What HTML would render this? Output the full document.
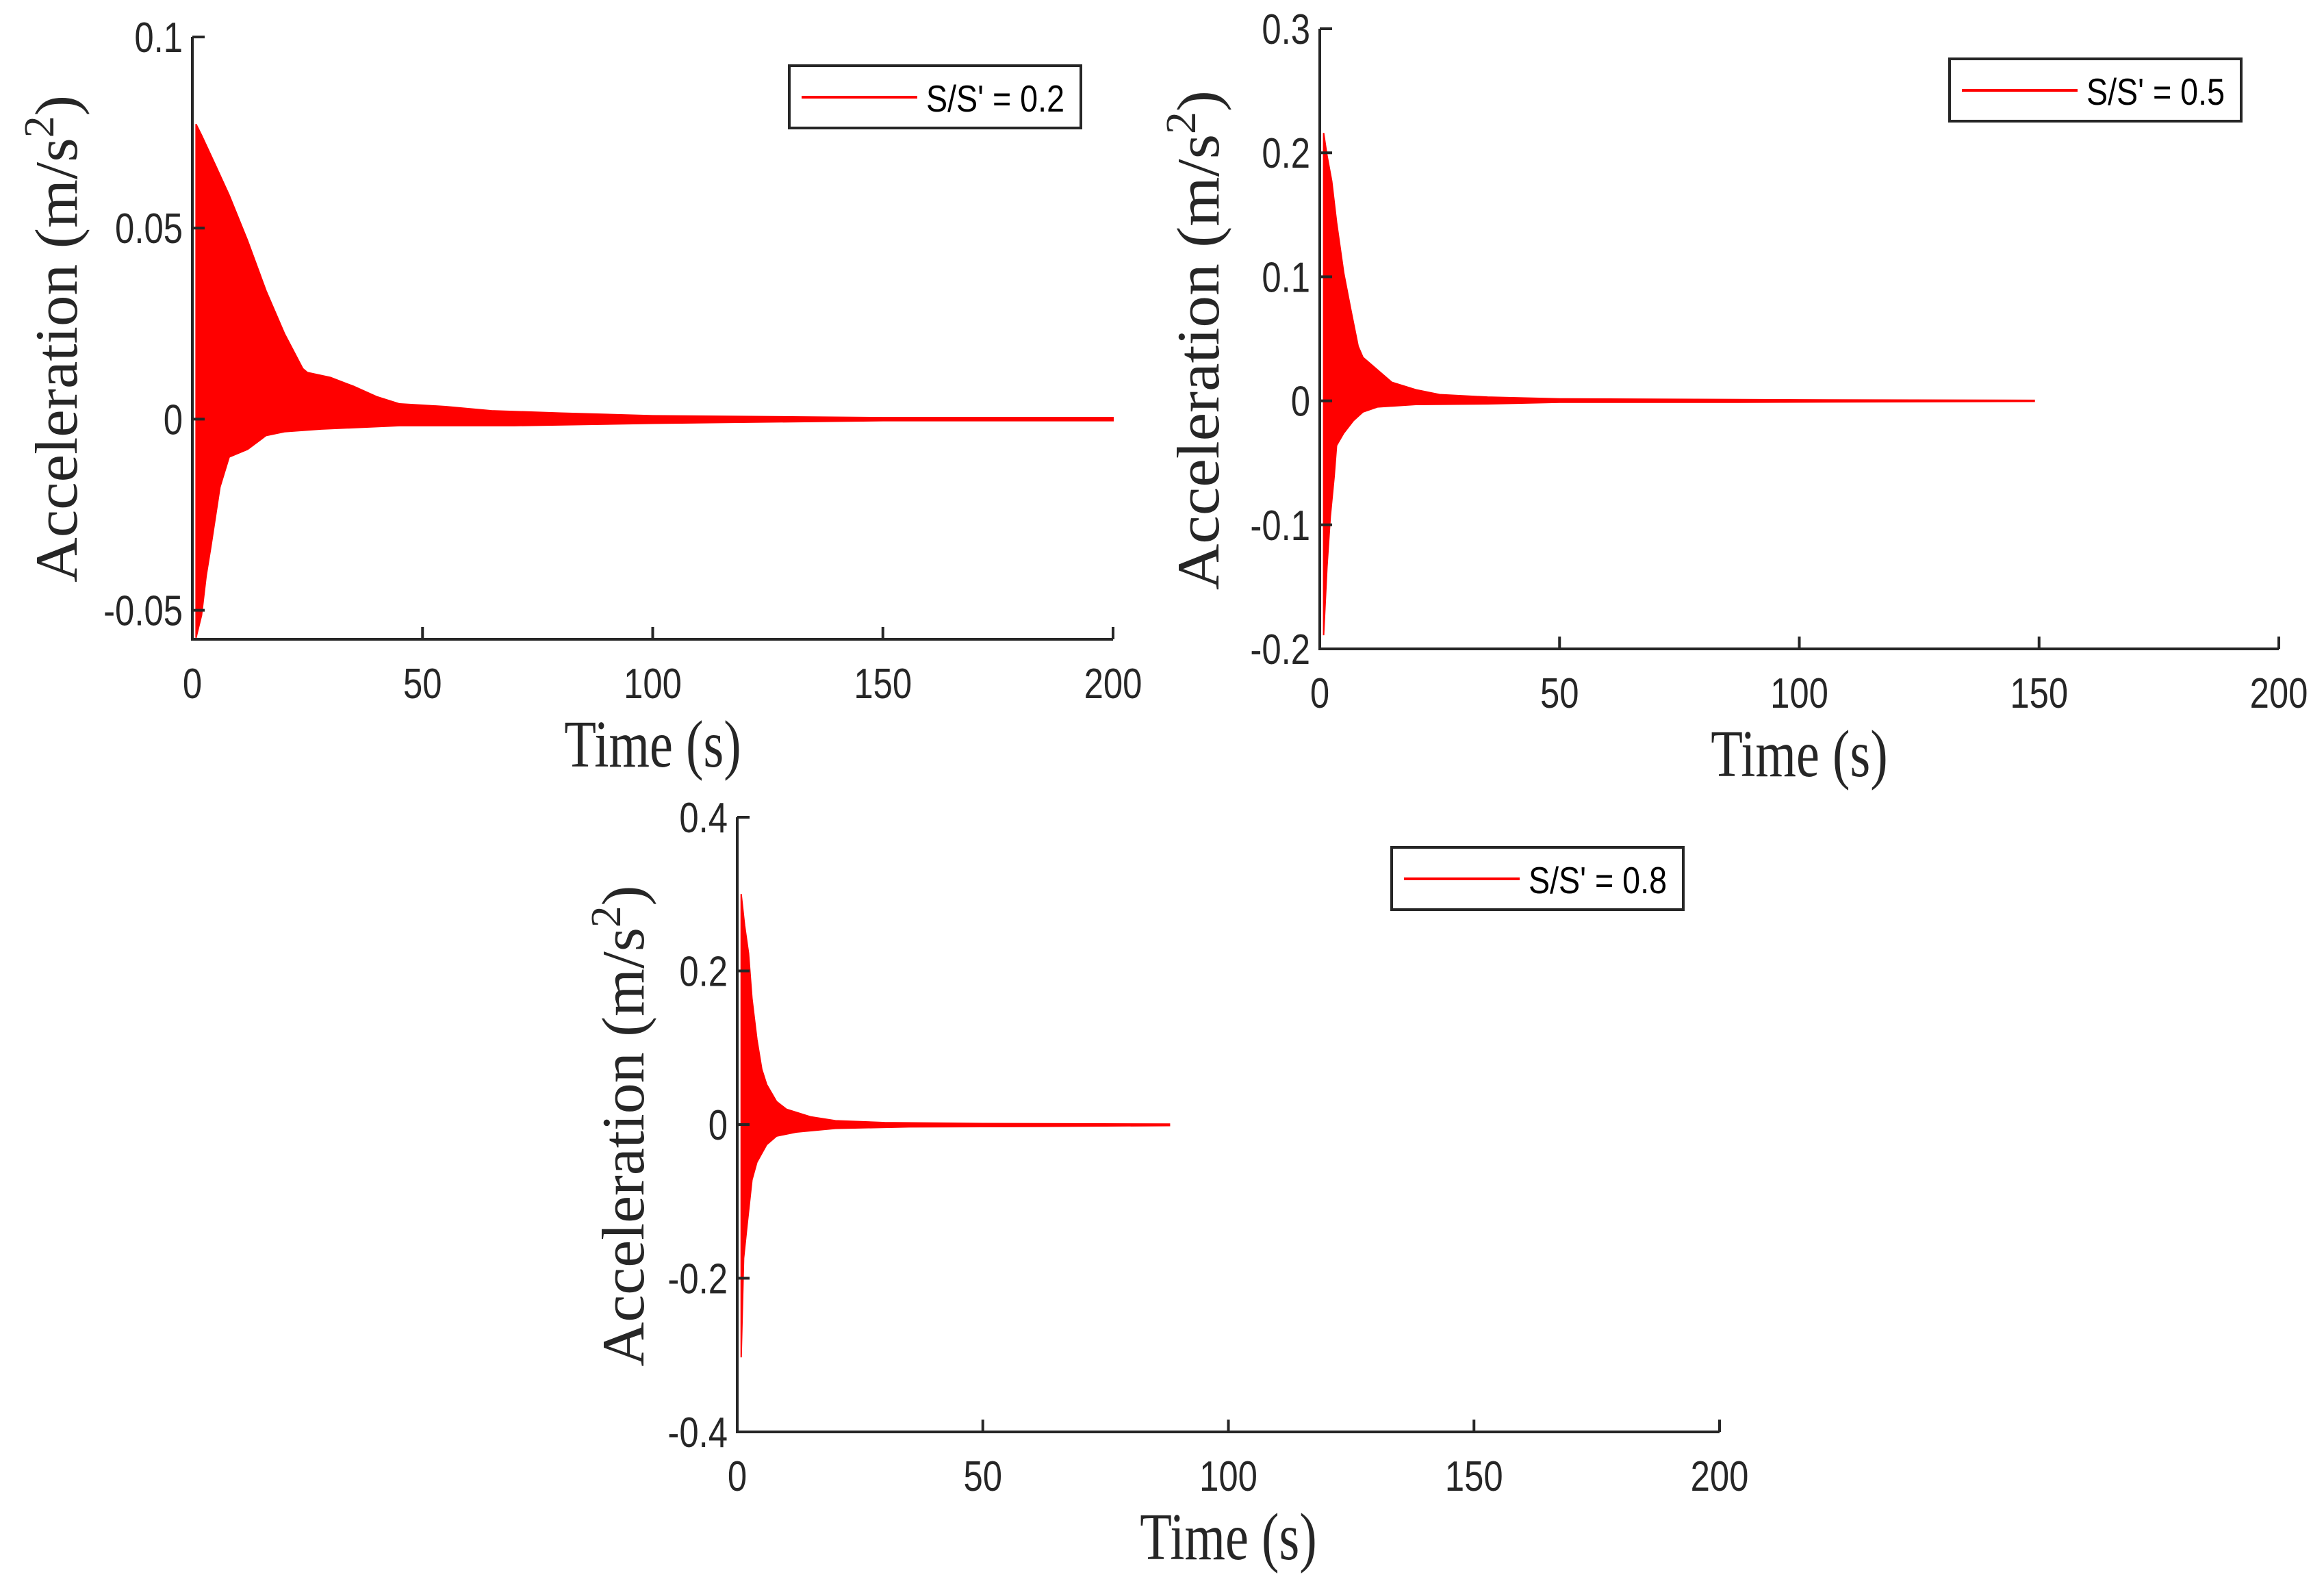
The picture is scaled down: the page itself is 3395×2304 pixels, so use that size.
<!DOCTYPE html>
<html><head><meta charset="utf-8"><style>
html,body{margin:0;padding:0;background:#fff;}
svg{display:block;}
</style></head><body>
<svg id="fig" width="3395" height="2304" viewBox="0 0 3395 2304" xmlns="http://www.w3.org/2000/svg"></svg>
<script>
// ---- Panel 1 data (S/S' = 0.2) ----
const p1UpperT = [0.8, 2, 5, 8, 12, 16, 20, 24, 25, 30, 35, 40, 45, 55, 65, 80, 100, 150, 200];
const p1UpperV = [0.0772, 0.0743, 0.0665, 0.0586, 0.0467, 0.0336, 0.0224, 0.0132, 0.0122, 0.0109, 0.0086, 0.0059, 0.004, 0.0033, 0.0022, 0.0016, 0.0009, 0.0004, 0.0004];
const p1LowerT = [0.8, 2, 3, 4, 6, 8, 12, 16, 20, 28, 45, 70, 100, 150, 200];
const p1LowerV = [-0.0572, -0.0513, -0.041, -0.0336, -0.0178, -0.0099, -0.0079, -0.0043, -0.0033, -0.0026, -0.0017, -0.0017, -0.0011, -0.0004, -0.0004];
const p1YTicks = [-0.05, 0, 0.05, 0.1];
const p1YTickLabels = ["-0.05", "0", "0.05", "0.1"];
// ---- Panel 2 data (S/S' = 0.5) ----
const p2UpperT = [0.8, 1.5, 2.5, 3.5, 5, 6.5, 8, 9, 12, 15, 20, 25, 35, 50, 100, 149];
const p2UpperV = [0.216, 0.198, 0.177, 0.144, 0.103, 0.073, 0.044, 0.035, 0.025, 0.015, 0.009, 0.005, 0.003, 0.0016, 0.0008, 0.0004];
const p2LowerT = [0.8, 1.5, 2.2, 3, 3.5, 5, 7, 9, 12, 20, 35, 50, 85, 149];
const p2LowerV = [-0.189, -0.134, -0.093, -0.061, -0.036, -0.026, -0.016, -0.009, -0.005, -0.003, -0.0025, -0.0012, -0.0012, -0.0004];
const p2YTicks = [-0.2, -0.1, 0, 0.1, 0.2, 0.3];
const p2YTickLabels = ["-0.2", "-0.1", "0", "0.1", "0.2", "0.3"];
// ---- Panel 3 data (S/S' = 0.8) ----
const p3UpperT = [0.8, 1.5, 2.3, 3, 4, 5, 6, 8, 10, 15, 20, 30, 50, 88];
const p3UpperV = [0.30, 0.259, 0.223, 0.164, 0.111, 0.072, 0.052, 0.030, 0.020, 0.010, 0.005, 0.0026, 0.0013, 0.0007];
const p3LowerT = [0.8, 1.3, 2, 3, 4, 6, 8, 12, 20, 35, 55, 88];
const p3LowerV = [-0.303, -0.174, -0.131, -0.072, -0.049, -0.026, -0.015, -0.0098, -0.005, -0.003, -0.0026, -0.0013];
const p3YTicks = [-0.4, -0.2, 0, 0.2, 0.4];
const p3YTickLabels = ["-0.4", "-0.2", "0", "0.2", "0.4"];
// shared x ticks
const xTicks = [0, 50, 100, 150, 200];
const xTickLabels = ["0", "50", "100", "150", "200"];
const legendLabels = ["S/S' = 0.2", "S/S' = 0.5", "S/S' = 0.8"];

const NS = "http://www.w3.org/2000/svg";
const svg = document.getElementById('fig');
function mk(tag, attrs, parent){
  const e = document.createElementNS(NS, tag);
  for (const k in attrs) e.setAttribute(k, attrs[k]);
  (parent||svg).appendChild(e);
  return e;
}
function txt(s, x, y, size, family, anchor, sx, parent){
  const g = mk('g', {transform:`translate(${x},${y}) scale(${sx},1)`}, parent);
  const t = mk('text', {x:0, y:0, 'font-size':size, 'font-family':family, 'text-anchor':anchor, fill:'#262626'}, g);
  t.textContent = s;
  return t;
}

function panel(cfg, uT, uV, lT, lV, yT, yL, legend){
  const grp = mk('g', {});
  
  
  const X = v => cfg.x0 + (v - 0)/(200 - 0)*(cfg.x1 - cfg.x0);
  const Y = v => cfg.yb + (v - cfg.ymin)/(cfg.ymax - cfg.ymin)*(cfg.yt - cfg.yb);
  let d = 'M' + X(uT[0]) + ',' + Y(0);
  for (let i=0;i<uT.length;i++) d += ' L' + X(uT[i]) + ',' + Y(uV[i]);
  for (let i=lT.length-1;i>=0;i--) d += ' L' + X(lT[i]) + ',' + Y(lV[i]);
  d += ' Z';
  const area = mk('path', {d:d, fill:'#ff0000', stroke:'#ff0000', 'stroke-width':2}, grp);
  
  
  const ax = mk('path', {d:`M${cfg.x0},${cfg.yt} V${cfg.yb} H${X(200)}`, fill:'none', stroke:'#262626', 'stroke-width':4}, grp);
  
  
  yT.forEach((v,i)=>{
    mk('line', {x1:cfg.x0, x2:cfg.x0+18, y1:Y(v), y2:Y(v), stroke:'#262626', 'stroke-width':4}, grp);
    const t = txt(yL[i], cfg.x0-14, Y(v)+22, 62, 'Liberation Sans, sans-serif', 'end', 0.82, grp);
    
    
  });
  xTicks.forEach((v,i)=>{
    mk('line', {x1:X(v), x2:X(v), y1:cfg.yb, y2:cfg.yb-18, stroke:'#262626', 'stroke-width':4}, grp);
    const t = txt(xTickLabels[i], X(v), cfg.yb+86, 62, 'Liberation Sans, sans-serif', 'middle', 0.82, grp);
    
    
  });
  const xt = txt('Time (s)', (cfg.x0+X(200))/2, cfg.yb+186, 98, 'Liberation Serif, serif', 'middle', 0.78, grp);
  
  
  const yg = mk('g', {transform:`translate(${cfg.ylx},${cfg.ylc}) rotate(-90)`}, grp);
  const yt = mk('text', {x:0, y:0, 'font-size':88, 'font-family':'Liberation Serif, serif', 'text-anchor':'middle', fill:'#262626', textLength:cfg.yll, lengthAdjust:'spacingAndGlyphs'}, yg);
  yt.innerHTML = 'Acceleration (m/s<tspan dy="-34" font-size="62">2</tspan><tspan dy="34">)</tspan>';
  
  
  const lg = mk('g', {}, grp);
  
  
  mk('rect', {x:cfg.lx, y:cfg.ly, width:426, height:91, fill:'#fff', stroke:'#262626', 'stroke-width':4}, lg);
  mk('line', {x1:cfg.lx+18, x2:cfg.lx+187, y1:cfg.ly+46, y2:cfg.ly+46, stroke:'#ff0000', 'stroke-width':4}, lg);
  const lt = mk('text', {x:cfg.lx+200, y:cfg.ly+67, 'font-size':55, 'font-family':'Liberation Sans, sans-serif', fill:'#000', textLength:202, lengthAdjust:'spacingAndGlyphs'}, lg);
  lt.textContent = legend;
  
  
}

panel({name:'panel-ratio-0-2', x0:281, x1:1626, yt:54, yb:934, ymin:-0.0576, ymax:0.1, ylx:112, ylc:495, yll:712, lx:1153, ly:96},
  p1UpperT, p1UpperV, p1LowerT, p1LowerV, p1YTicks, p1YTickLabels, legendLabels[0]);
panel({name:'panel-ratio-0-5', x0:1928, x1:3329, yt:42, yb:948, ymin:-0.2, ymax:0.3, ylx:1780, ylc:497, yll:730, lx:2848, ly:86},
  p2UpperT, p2UpperV, p2LowerT, p2LowerV, p2YTicks, p2YTickLabels, legendLabels[1]);
panel({name:'panel-ratio-0-8', x0:1077, x1:2512, yt:1194, yb:2092, ymin:-0.4, ymax:0.4, ylx:940, ylc:1645, yll:703, lx:2033, ly:1238},
  p3UpperT, p3UpperV, p3LowerT, p3LowerV, p3YTicks, p3YTickLabels, legendLabels[2]);
</script>
</body></html>
